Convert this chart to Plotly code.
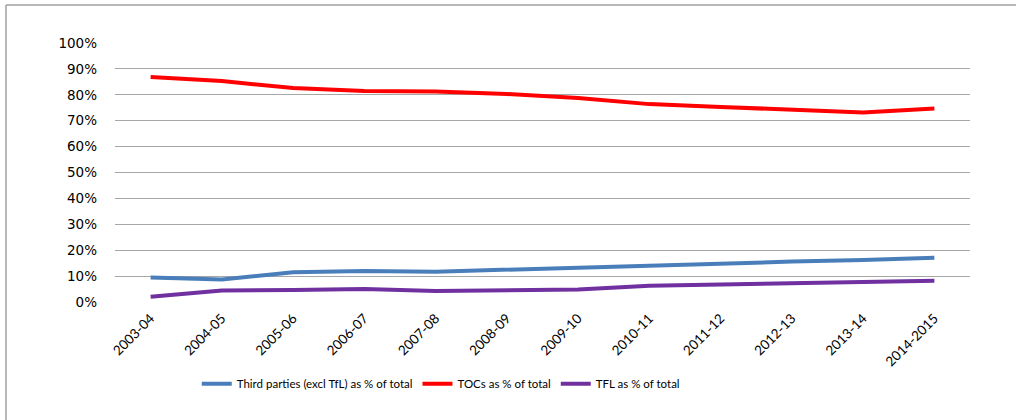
import plotly.graph_objects as go

years = ["2003-04", "2004-05", "2005-06", "2006-07", "2007-08", "2008-09",
         "2009-10", "2010-11", "2011-12", "2012-13", "2013-14", "2014-2015"]
third_parties = [0.095, 0.087, 0.115, 0.120, 0.117, 0.125, 0.134, 0.143, 0.149, 0.156, 0.162, 0.171]
tocs = [0.869, 0.853, 0.826, 0.815, 0.813, 0.803, 0.788, 0.764, 0.753, 0.741, 0.732, 0.747]
tfl = [0.020, 0.044, 0.046, 0.050, 0.042, 0.044, 0.048, 0.063, 0.067, 0.071, 0.076, 0.082]
y_ticks = [i / 10 for i in range(11)]

series = [
    ("Third parties (excl TfL) as % of total", third_parties, "#4a7ebb"),
    ("TOCs as % of total", tocs, "#ff0000"),
    ("TFL as % of total", tfl, "#7030a0"),
]

W, H = 1016, 420
ML, MR, MT, MB = 115, 46, 43, 118

fig = go.Figure()
for name, vals, color in series:
    fig.add_trace(go.Scatter(
        x=years, y=vals, name=name, mode="lines",
        line=dict(color=color, width=4),
    ))

pw = W - ML - MR
ph = H - MT - MB
# chart-area frame: left and top edges
bx = (6 - ML) / pw
by = 1 + (MT - 5) / ph
fig.add_shape(type="line", xref="paper", yref="paper", x0=bx, x1=bx, y0=by, y1=-MB / ph,
              line=dict(color="#a0a0a0", width=1.5))
fig.add_shape(type="line", xref="paper", yref="paper", x0=bx, x1=(W - ML) / pw, y0=by, y1=by,
              line=dict(color="#a0a0a0", width=1.5))

fig.update_layout(
    width=W, height=H,
    margin=dict(l=ML, r=MR, t=MT, b=MB),
    paper_bgcolor="white", plot_bgcolor="white",
    font=dict(family="DejaVu Sans", size=12, color="#000000"),
    showlegend=True,
    legend=dict(orientation="h", x=0.381, xanchor="center", y=-0.26, yanchor="top",
                font=dict(family="Lato", size=11.5), itemwidth=30, tracegroupgap=0),
    xaxis=dict(type="category", tickangle=-45, showgrid=False, showline=False,
               ticks="", ticklabelstandoff=5,
               tickfont=dict(family="Lato", size=13.5), range=[-0.5, 11.5]),
    yaxis=dict(range=[0, 1.0], tickvals=y_ticks, tickformat=".0%", showgrid=True,
               gridcolor="#a6a6a6", gridwidth=1, zeroline=False, showline=False,
               ticks="", ticklabelstandoff=17, tickfont=dict(family="DejaVu Sans", size=13.5)),
)

fig.write_html("out.html")
